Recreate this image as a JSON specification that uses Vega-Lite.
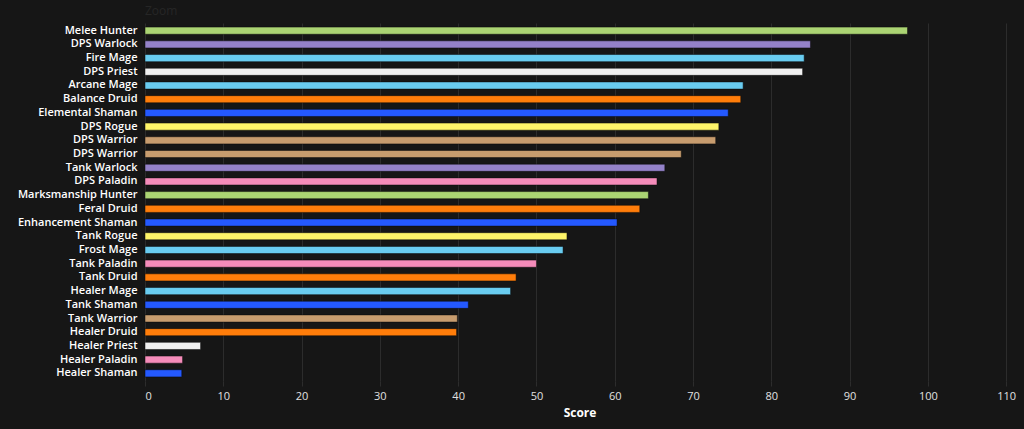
{
  "$schema": "https://vega.github.io/schema/vega-lite/v6.json",
  "width": 869,
  "height": 358,
  "autosize": "none",
  "padding": {"left": 145, "top": 23, "right": 10, "bottom": 48},
  "background": "#161616",
  "title": {"text": "Zoom", "anchor": "start", "frame": "group", "color": "#262626", "fontSize": 12, "font": "Open Sans", "fontWeight": "normal", "offset": 5},
  "data": {"values": [
    {"spec": "Melee Hunter", "cls": "Hunter", "score": 97.4},
    {"spec": "DPS Warlock", "cls": "Warlock", "score": 85.0},
    {"spec": "Fire Mage", "cls": "Mage", "score": 84.2},
    {"spec": "DPS Priest", "cls": "Priest", "score": 84.0},
    {"spec": "Arcane Mage", "cls": "Mage", "score": 76.4},
    {"spec": "Balance Druid", "cls": "Druid", "score": 76.1},
    {"spec": "Elemental Shaman", "cls": "Shaman", "score": 74.5},
    {"spec": "DPS Rogue", "cls": "Rogue", "score": 73.3},
    {"spec": "DPS Warrior", "cls": "Warrior", "score": 72.9},
    {"spec": "DPS Warrior#2", "cls": "Warrior", "score": 68.5},
    {"spec": "Tank Warlock", "cls": "Warlock", "score": 66.4},
    {"spec": "DPS Paladin", "cls": "Paladin", "score": 65.4},
    {"spec": "Marksmanship Hunter", "cls": "Hunter", "score": 64.3},
    {"spec": "Feral Druid", "cls": "Druid", "score": 63.2},
    {"spec": "Enhancement Shaman", "cls": "Shaman", "score": 60.3},
    {"spec": "Tank Rogue", "cls": "Rogue", "score": 53.9},
    {"spec": "Frost Mage", "cls": "Mage", "score": 53.4},
    {"spec": "Tank Paladin", "cls": "Paladin", "score": 50.0},
    {"spec": "Tank Druid", "cls": "Druid", "score": 47.4},
    {"spec": "Healer Mage", "cls": "Mage", "score": 46.7},
    {"spec": "Tank Shaman", "cls": "Shaman", "score": 41.3},
    {"spec": "Tank Warrior", "cls": "Warrior", "score": 39.9},
    {"spec": "Healer Druid", "cls": "Druid", "score": 39.8},
    {"spec": "Healer Priest", "cls": "Priest", "score": 7.1},
    {"spec": "Healer Paladin", "cls": "Paladin", "score": 4.8},
    {"spec": "Healer Shaman", "cls": "Shaman", "score": 4.7}
  ]},
  "mark": {"type": "bar", "stroke": "#0a0a0a", "strokeWidth": 0.5},
  "encoding": {
    "y": {
      "field": "spec", "type": "nominal", "sort": null,
      "scale": {"paddingInner": 0.48, "paddingOuter": 0.3},
      "axis": {
        "title": null, "ticks": false, "domain": false, "grid": false,
        "labelExpr": "split(datum.value, '#')[0]",
        "labelColor": "#ffffff", "labelFont": "Open Sans", "labelFontSize": 11,
        "labelFontWeight": 600, "labelPadding": 8
      }
    },
    "x": {
      "field": "score", "type": "quantitative",
      "scale": {"domain": [0, 111], "nice": false},
      "axis": {
        "title": "Score", "titleColor": "#ffffff", "titleFont": "Open Sans", "titleFontSize": 12, "titleFontWeight": "bold", "titlePadding": 6,
        "values": [0, 10, 20, 30, 40, 50, 60, 70, 80, 90, 100, 110],
        "labelColor": "#e0e0e0", "labelFont": "Open Sans", "labelFontSize": 11, "labelPadding": 4,
        "grid": true, "gridColor": "#2c2c2c", "gridWidth": 1,
        "ticks": true, "tickColor": "#2c2c2c", "tickSize": 5,
        "domain": false
      }
    },
    "color": {
      "field": "cls", "type": "nominal", "legend": null,
      "scale": {
        "domain": ["Hunter", "Warlock", "Mage", "Priest", "Druid", "Shaman", "Rogue", "Warrior", "Paladin"],
        "range": ["#abd473", "#9482c9", "#69ccf0", "#f0f0f0", "#ff7d0a", "#2459ff", "#fff569", "#c79c6e", "#f58cba"]
      }
    }
  },
  "config": {"view": {"stroke": null}}
}
